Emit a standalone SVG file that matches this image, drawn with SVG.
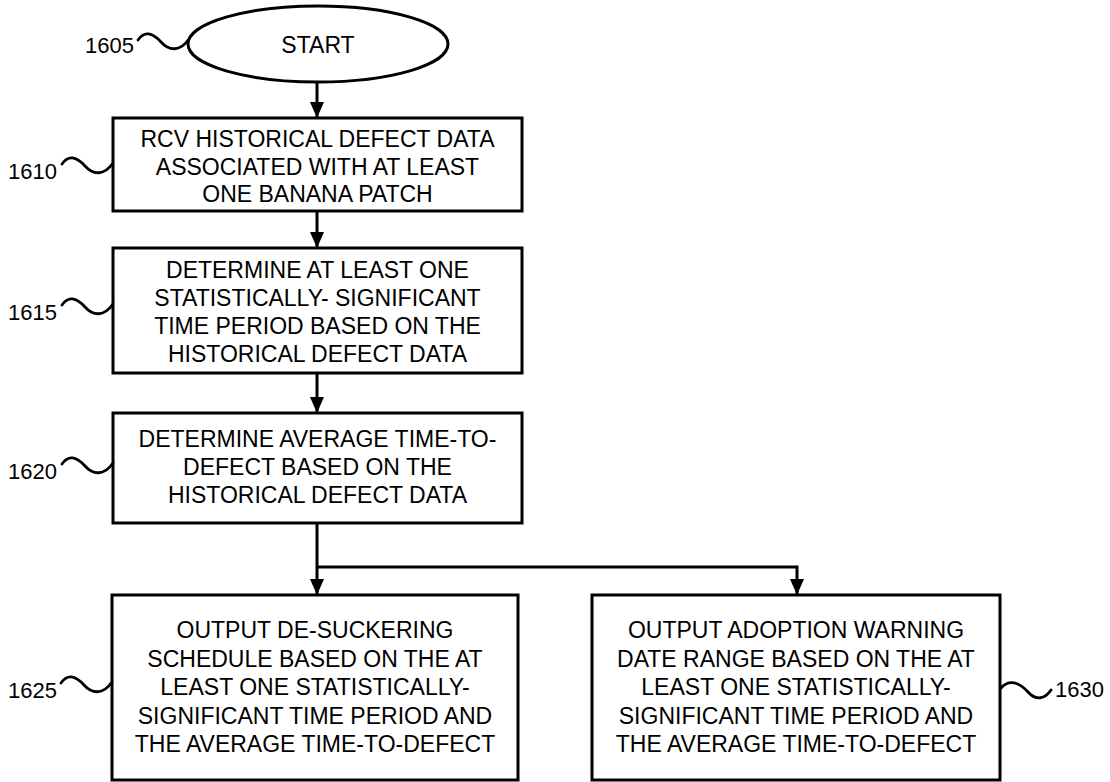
<svg xmlns="http://www.w3.org/2000/svg" xmlns:xlink="http://www.w3.org/1999/xlink" width="1110" height="782" viewBox="0 0 1110 782">
  <style>
    .shape { fill: #ffffff; stroke: #000000; stroke-width: 3; }
    .wire { fill: none; stroke: #000000; stroke-width: 3; }
    .lead { fill: none; stroke: #000000; stroke-width: 2.8; stroke-linecap: round; }
    .txt { font-family: "Liberation Sans", Arial, Helvetica, sans-serif; font-size: 23px; fill: #000000; text-anchor: middle; }
    .ref { font-family: "Liberation Sans", Arial, Helvetica, sans-serif; font-size: 22px; fill: #000000; }
  </style>
  <defs>
    <marker id="arrow" viewBox="0 0 16 14" refX="16" refY="7" markerWidth="16" markerHeight="14" markerUnits="userSpaceOnUse" orient="auto">
      <path d="M0,0 L16,7 L0,14 Z" fill="#000000"/>
    </marker>
    <!-- wavy leader line, ending at the shape it labels -->
    <path id="leadLeft" d="M -51 0 C -45 -9 -37 -8 -28 2 C -20 11 -9 12 0 -1"/>
    <path id="leadRight" d="M 0 0 C 8 -9 18 -6 27 4 C 35 13 44 11 50 2"/>
  </defs>

  <rect width="1110" height="782" fill="#ffffff"/>

  <!-- connectors -->
  <g id="connectors">
    <line class="wire" x1="317" y1="82" x2="317" y2="118" marker-end="url(#arrow)"/>
    <line class="wire" x1="317" y1="211" x2="317" y2="248" marker-end="url(#arrow)"/>
    <line class="wire" x1="317" y1="373" x2="317" y2="413" marker-end="url(#arrow)"/>
    <line class="wire" x1="317" y1="523" x2="317" y2="595" marker-end="url(#arrow)"/>
    <polyline class="wire" points="317,567 797,567 797,595" marker-end="url(#arrow)"/>
  </g>

  <!-- 1605: start terminal -->
  <g id="start">
    <ellipse class="shape" cx="318" cy="44" rx="130" ry="38"/>
    <text class="txt" x="318" y="53" font-size="22">START</text>
    <use href="#leadLeft" xlink:href="#leadLeft" class="lead" transform="translate(189,40)"/>
    <text class="ref" x="134" y="53" text-anchor="end">1605</text>
  </g>

  <!-- 1610 -->
  <g id="step1610">
    <rect class="shape" x="113" y="118" width="409" height="93"/>
    <text class="txt" x="317.5" y="147">RCV HISTORICAL DEFECT DATA</text>
    <text class="txt" x="317.5" y="174.5">ASSOCIATED WITH AT LEAST</text>
    <text class="txt" x="317.5" y="202">ONE BANANA PATCH</text>
    <use href="#leadLeft" xlink:href="#leadLeft" class="lead" transform="translate(113,164)"/>
    <text class="ref" x="57" y="179" text-anchor="end">1610</text>
  </g>

  <!-- 1615 -->
  <g id="step1615">
    <rect class="shape" x="113" y="248" width="409" height="125"/>
    <text class="txt" x="317.5" y="278">DETERMINE AT LEAST ONE</text>
    <text class="txt" x="317.5" y="306">STATISTICALLY- SIGNIFICANT</text>
    <text class="txt" x="317.5" y="334">TIME PERIOD BASED ON THE</text>
    <text class="txt" x="317.5" y="362">HISTORICAL DEFECT DATA</text>
    <use href="#leadLeft" xlink:href="#leadLeft" class="lead" transform="translate(113,305)"/>
    <text class="ref" x="57" y="320" text-anchor="end">1615</text>
  </g>

  <!-- 1620 -->
  <g id="step1620">
    <rect class="shape" x="113" y="413" width="409" height="110"/>
    <text class="txt" x="317.5" y="447">DETERMINE AVERAGE TIME-TO-</text>
    <text class="txt" x="317.5" y="475">DEFECT BASED ON THE</text>
    <text class="txt" x="317.5" y="503">HISTORICAL DEFECT DATA</text>
    <use href="#leadLeft" xlink:href="#leadLeft" class="lead" transform="translate(113,464)"/>
    <text class="ref" x="57" y="479" text-anchor="end">1620</text>
  </g>

  <!-- 1625 -->
  <g id="step1625">
    <rect class="shape" x="112" y="595" width="406" height="185"/>
    <text class="txt" x="315" y="638">OUTPUT DE-SUCKERING</text>
    <text class="txt" x="315" y="666.5">SCHEDULE BASED ON THE AT</text>
    <text class="txt" x="315" y="695">LEAST ONE STATISTICALLY-</text>
    <text class="txt" x="315" y="723.5">SIGNIFICANT TIME PERIOD AND</text>
    <text class="txt" x="315" y="752">THE AVERAGE TIME-TO-DEFECT</text>
    <use href="#leadLeft" xlink:href="#leadLeft" class="lead" transform="translate(112,683)"/>
    <text class="ref" x="57" y="698" text-anchor="end">1625</text>
  </g>

  <!-- 1630 -->
  <g id="step1630">
    <rect class="shape" x="592" y="595" width="408" height="185"/>
    <text class="txt" x="796" y="638">OUTPUT ADOPTION WARNING</text>
    <text class="txt" x="796" y="666.5">DATE RANGE BASED ON THE AT</text>
    <text class="txt" x="796" y="695">LEAST ONE STATISTICALLY-</text>
    <text class="txt" x="796" y="723.5">SIGNIFICANT TIME PERIOD AND</text>
    <text class="txt" x="796" y="752">THE AVERAGE TIME-TO-DEFECT</text>
    <use href="#leadRight" xlink:href="#leadRight" class="lead" transform="translate(1001,688)"/>
    <text class="ref" x="1055" y="697">1630</text>
  </g>
</svg>
